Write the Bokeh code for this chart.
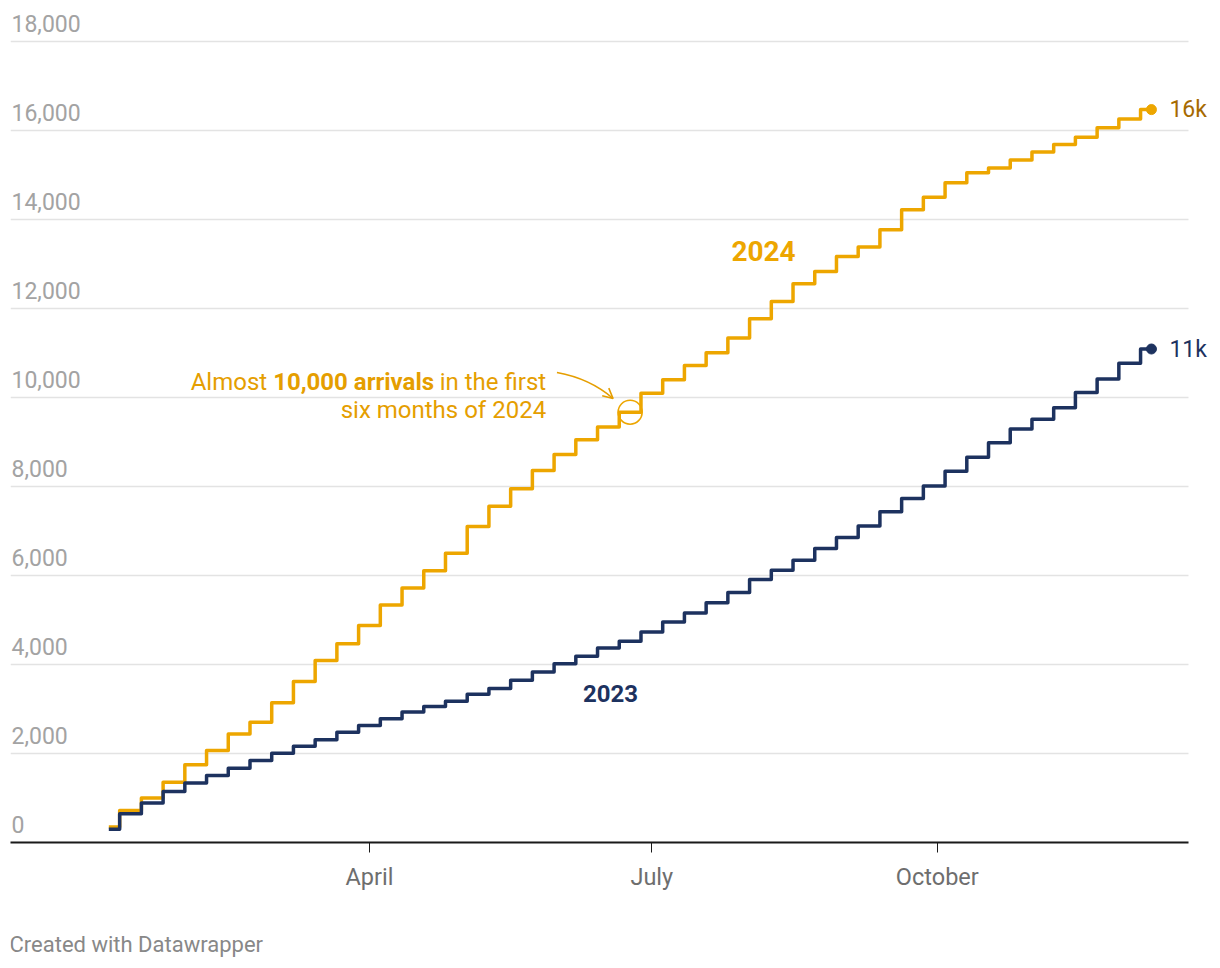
import pandas as pd
from bokeh.plotting import figure
from bokeh.layouts import column
from bokeh.models import Range1d, FixedTicker, DatetimeTickFormatter, Label, Arrow, OpenHead
from bokeh.core.properties import value
from bokeh.embed import file_html
from bokeh.resources import INLINE

# ---------------- data ----------------
first_week = "2024-01-08"
n_weeks = 49
weeks = pd.date_range(first_week, periods=n_weeks, freq="7D")

arrivals_2024 = [350, 720, 1000, 1355, 1750, 2065, 2440, 2705, 3140, 3620, 4090, 4465,
                 4875, 5335, 5720, 6105, 6500, 7100, 7555, 7950, 8360, 8720, 9050, 9335,
                 9670, 10095, 10400, 10720, 11005, 11340, 11770, 12155, 12555, 12830,
                 13170, 13380, 13770, 14220, 14500, 14825, 15050, 15155, 15340, 15515,
                 15685, 15850, 16060, 16260, 16470]
arrivals_2023 = [300, 645, 890, 1145, 1335, 1505, 1670, 1845, 2005, 2165, 2310, 2480,
                 2630, 2780, 2930, 3055, 3175, 3330, 3460, 3645, 3830, 4015, 4185, 4370,
                 4520, 4730, 4955, 5160, 5385, 5620, 5910, 6120, 6345, 6605, 6855, 7110,
                 7430, 7730, 8010, 8345, 8655, 8985, 9290, 9510, 9770, 10110, 10415,
                 10770, 11090]

y_ticks = [0, 2000, 4000, 6000, 8000, 10000, 12000, 14000, 16000, 18000]
y_tick_labels = ["{:,}".format(v) for v in y_ticks]
x_tick_dates = ["2024-04-01", "2024-07-01", "2024-10-01"]
end_labels = {"2024": "16k", "2023": "11k"}
highlight_week = 24  # "almost 10,000 arrivals in the first six months"
footer_text = "Created with Datawrapper"

# ---------------- style ----------------
ORANGE = "#eda600"
ORANGE_TXT = "#e59e00"
ORANGE_DARK = "#a66a00"
NAVY = "#1d325f"
FONT = "Roboto"


def ms(t):
    return pd.Timestamp(t).value / 1e6


x_ms = [ms(t) for t in weeks]
x_start = ms("2023-12-07 07:40")
x_end = ms("2024-12-29 23:17")
x_rule_end = ms("2024-12-20 22:50")   # where grid lines / axis line stop

p = figure(width=1216, height=900, output_backend="svg", toolbar_location=None,
           x_axis_type="datetime", y_axis_location=None,
           x_range=Range1d(x_start, x_end), y_range=Range1d(0, 18697),
           min_border_left=10, min_border_right=0, min_border_top=10,
           min_border_bottom=58)
p.outline_line_color = None
p.background_fill_color = "white"
p.border_fill_color = "white"
for g in p.grid:
    g.visible = False

# horizontal grid lines (stop short of the end labels)
p.segment(x0=[x_start] * len(y_ticks), y0=y_ticks, x1=[x_rule_end] * len(y_ticks),
          y1=y_ticks, line_color="#e3e3e3", line_width=1.6)

ax = p.xaxis[0]
ax.bounds = (x_start, x_rule_end)
ax.ticker = FixedTicker(ticks=[ms(d) for d in x_tick_dates])
fmt = "%B"
ax.formatter = DatetimeTickFormatter(microseconds=fmt, milliseconds=fmt, seconds=fmt,
                                     minsec=fmt, minutes=fmt, hourmin=fmt, hours=fmt,
                                     days=fmt, months=fmt, years=fmt)
ax.axis_line_color = "#1a1a1a"
ax.axis_line_width = 2
ax.major_tick_line_color = "#1a1a1a"
ax.major_tick_line_width = 1
ax.major_tick_out = 10
ax.major_tick_in = 0
ax.minor_tick_line_color = None
ax.major_label_text_font = FONT
ax.major_label_text_font_size = "23.5px"
ax.major_label_text_color = "#6e6e6e"
ax.major_label_standoff = 10

# y tick labels sitting above the grid lines
p.text(x=[x_start] * len(y_ticks), y=y_ticks, text=y_tick_labels,
       text_font=value(FONT), text_font_size="23px", text_color="#a3a3a3",
       text_align="left", text_baseline="middle", x_offset=1, y_offset=-18)

# series
p.step(x_ms, arrivals_2024, mode="center", line_color=ORANGE, line_width=3.5,
       line_join="round")
p.step(x_ms, arrivals_2023, mode="center", line_color=NAVY, line_width=3.5,
       line_join="round")

p.scatter([x_ms[-1]], [arrivals_2024[-1]], size=10, color=ORANGE)
p.scatter([x_ms[-1]], [arrivals_2023[-1]], size=10, color=NAVY)

p.add_layout(Label(x=x_ms[-1], y=arrivals_2024[-1], text=end_labels["2024"],
                   x_offset=18, text_baseline="middle", text_font=FONT,
                   text_font_size="23px", text_color=ORANGE_DARK))
p.add_layout(Label(x=x_ms[-1], y=arrivals_2023[-1], text=end_labels["2023"],
                   x_offset=18, text_baseline="middle", text_font=FONT,
                   text_font_size="23px", text_color=NAVY))

# series labels
p.text(x=[ms("2024-08-06")], y=[13300], text=["2024"], text_font=value(FONT),
       text_font_style="bold", text_font_size="28px", text_color=ORANGE,
       text_align="center", text_baseline="middle")
p.text(x=[ms("2024-06-17 17:00")], y=[3348], text=["2023"], text_font=value(FONT),
       text_font_style="bold", text_font_size="24px", text_color=NAVY,
       text_align="center", text_baseline="middle")

# highlight
hx = x_ms[highlight_week]
hy = arrivals_2024[highlight_week]
p.scatter([hx], [hy], size=24, fill_color=None, line_color=ORANGE, line_width=1.6)

common = dict(text_font=value(FONT), text_font_size="24px", text_color=ORANGE_TXT,
              text_align="right", text_baseline="middle")
p.text(x=[hx], y=[hy], text=["in the first"], x_offset=-84, y_offset=-30, **common)
p.text(x=[hx], y=[hy], text=["10,000 arrivals"], x_offset=-196, y_offset=-30,
       text_font_style="bold", **common)
p.text(x=[hx], y=[hy], text=["Almost"], x_offset=-363, y_offset=-30, **common)
p.text(x=[hx], y=[hy], text=["six months of 2024"], x_offset=-84, y_offset=-2, **common)

# curved arrow
a0 = (ms("2024-05-31 10:00"), 10562)
ac = (ms("2024-06-11 02:00"), 10427)
a1 = (ms("2024-06-18 12:00"), 9978)
p.quadratic(x0=[a0[0]], y0=[a0[1]], x1=[a1[0]], y1=[a1[1]], cx=[ac[0]], cy=[ac[1]],
            line_color=ORANGE_TXT, line_width=1.6)
p.add_layout(Arrow(end=OpenHead(size=10, line_color=ORANGE_TXT, line_width=1.6),
                   x_start=ac[0], y_start=ac[1], x_end=a1[0], y_end=a1[1],
                   line_alpha=0))

# footer
f = figure(width=1216, height=60, output_backend="svg", toolbar_location=None,
           x_axis_location=None, y_axis_location=None,
           x_range=Range1d(0, 1216), y_range=Range1d(0, 60), min_border=0)
f.outline_line_color = None
for g in f.grid:
    g.visible = False
f.text(x=[0], y=[16], text=[footer_text], text_font=value(FONT),
       text_font_size="22px", text_color="#888888", text_align="left",
       text_baseline="middle", x_offset=-1)

layout = column(p, f, spacing=0)
open("out.html", "w").write(file_html(layout, INLINE))
